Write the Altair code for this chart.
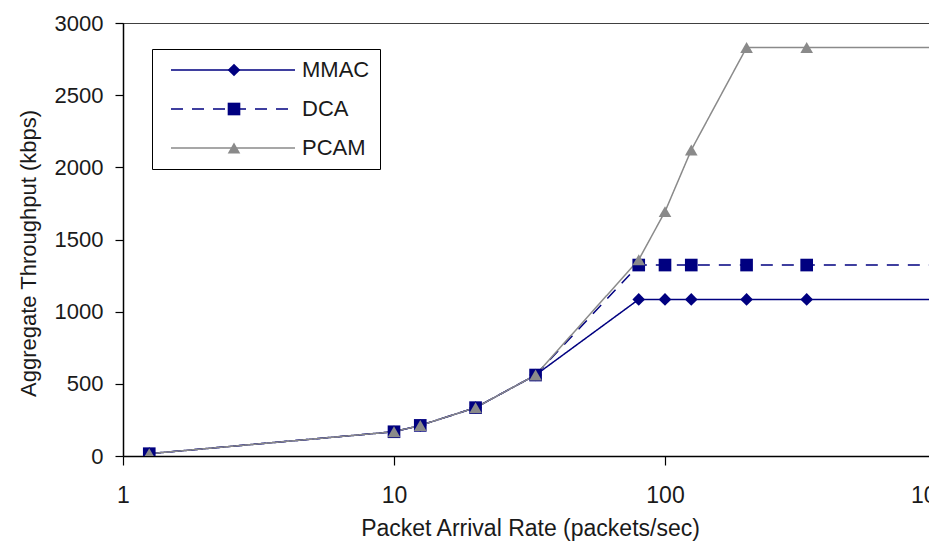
import altair as alt
import pandas as pd

# ---- data ----
rates = [1.25, 10, 12.5, 20, 33.3, 80, 100, 125, 200, 333.3, 1000]
mmac = [16, 168, 212, 335, 561, 1085, 1085, 1085, 1085, 1085, 1085]
dca = [16, 168, 212, 335, 561, 1323, 1323, 1323, 1323, 1323, 1323]
pcam = [16, 168, 212, 335, 561, 1360, 1693, 2120, 2830, 2830, 2830]

series_names = ["MMAC", "DCA", "PCAM"]
series_colors = ["#000080", "#000080", "#8a8a8a"]
series_dashes = [[1, 0], [12, 9], [1, 0]]
series_widths = [1.5, 1.5, 1.2]
series_shapes = ["diamond", "square", "triangle-up"]

x_ticks = [1, 10, 100, 1000]
y_ticks = [0, 500, 1000, 1500, 2000, 2500, 3000]

rows = []
for name, vals in zip(series_names, [mmac, dca, pcam]):
    for r, v in zip(rates, vals):
        rows.append({"rate": r, "kbps": v, "series": name, "marker": name})
df = pd.DataFrame(rows)

FONT = "Liberation Sans"
TXT = "#1a1a1a"

x_scale = alt.Scale(type="log", domain=[1, 1000], range=[0, 813], nice=False)
y_scale = alt.Scale(domain=[0, 3000], nice=False)

x_axis = alt.Axis(
    values=x_ticks, format="d", grid=False,
    domainColor="black", domainWidth=1.5, tickColor="black", tickSize=9, tickWidth=1.2,
    labelFont=FONT, labelFontSize=23, labelColor=TXT, labelPadding=19,
    labelFlush=False, labelOverlap=False, labelBound=False,
    title="Packet Arrival Rate (packets/sec)", titleFont=FONT, titleFontSize=23,
    titleFontWeight="normal", titleColor=TXT, titleX=407, titleY=72,
    titleAlign="center", titleBaseline="middle",
)
y_axis = alt.Axis(
    values=y_ticks, format="d", grid=False,
    domainColor="black", domainWidth=1.5, tickColor="black", tickSize=8, tickWidth=1.2,
    labelFont=FONT, labelFontSize=22, labelColor=TXT, labelPadding=12,
    title="Aggregate Throughput (kbps)", titleFont=FONT, titleFontSize=22,
    titleFontWeight="normal", titleColor=TXT, titleX=-95, titleY=230,
    titleAngle=-90, titleAlign="center", titleBaseline="middle",
)

# horizontal line symbol (custom path scaled by sqrt(size)/2 = 2 -> 124 px long)
line_symbol = "M0,0H62"

line_legend = alt.Legend(
    title=None, orient="none", legendX=29, legendY=26,
    symbolType=line_symbol, symbolSize=16, symbolStrokeWidth=1.5,
    symbolOffset=-2, labelOffset=120,
    labelFont=FONT, labelFontSize=22, labelColor=TXT,
    padding=10, rowPadding=17, strokeColor="black", cornerRadius=0,
)
marker_legend = alt.Legend(
    title=None, orient="none", legendX=29, legendY=26,
    symbolStrokeWidth=0, symbolSize=160, symbolOffset=61,
    labelExpr="''", labelFont=FONT, labelFontSize=22,
    padding=10, rowPadding=17,
)

base = alt.Chart(df)

lines = base.mark_line(clip=True).encode(
    x=alt.X("rate:Q", scale=x_scale, axis=x_axis),
    y=alt.Y("kbps:Q", scale=y_scale, axis=y_axis),
    color=alt.Color("series:N", scale=alt.Scale(domain=series_names, range=series_colors), legend=line_legend),
    strokeDash=alt.StrokeDash("series:N", scale=alt.Scale(domain=series_names, range=series_dashes), legend=line_legend),
    strokeWidth=alt.StrokeWidth("series:N", scale=alt.Scale(domain=series_names, range=series_widths), legend=None),
)

points = base.mark_point(filled=True, opacity=1, clip=True, size=160).encode(
    x=alt.X("rate:Q", scale=x_scale),
    y=alt.Y("kbps:Q", scale=y_scale),
    fill=alt.Fill("marker:N", sort=None, scale=alt.Scale(range=series_colors), legend=marker_legend),
    shape=alt.Shape("marker:N", sort=None, scale=alt.Scale(range=series_shapes), legend=marker_legend),
)

top_border = alt.Chart(pd.DataFrame({"k": [0]})).mark_rule(color="black", strokeWidth=1.5, clip=True).encode(
    x=alt.datum(1), x2=alt.datum(1000), y=alt.datum(3000)
)

chart = alt.layer(lines, points, top_border).properties(
    width=806, height=433,
    autosize=alt.AutoSizeParams(type="none"),
    padding={"left": 123, "top": 23, "right": 0, "bottom": 88},
    background="white",
).configure_view(stroke=None)

chart.save("out.html", embed_options={"renderer": "svg", "actions": False})
